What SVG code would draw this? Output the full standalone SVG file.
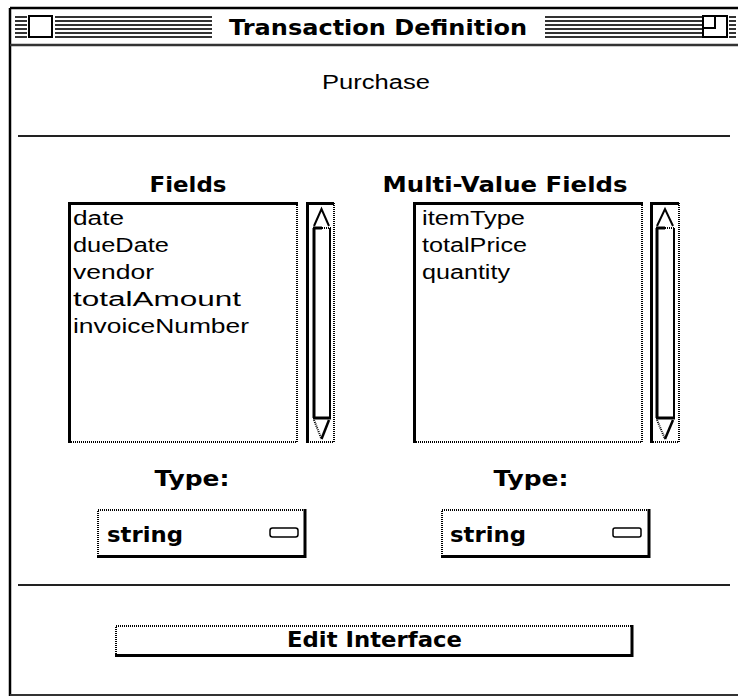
<svg xmlns="http://www.w3.org/2000/svg" width="738" height="696" viewBox="0 0 738 696">
<style>
.blk{stroke:#000;fill:none}
.dot{stroke:#000;stroke-dasharray:1 1;fill:none;stroke-width:2}
.stripe{stroke:#333;stroke-width:2}
.hdr{font-family:"DejaVu Sans",sans-serif;font-weight:bold;font-size:22px;fill:#000}
.reg{font-family:"Liberation Sans","DejaVu Sans",sans-serif;font-size:20px;fill:#000}
</style>
<defs>
<g id="stripes6">
<line x1="0" y1="17" x2="1" y2="17" class="stripe"/>
</g>
</defs>
<rect x="0" y="0" width="738" height="696" fill="#fff"/>
<g id="window">
<line x1="10" y1="8" x2="738" y2="8" class="blk" stroke-width="2.5"/>
<line x1="10" y1="8" x2="10" y2="696" class="blk" stroke-width="2.5"/>
<line x1="10" y1="45" x2="738" y2="45" stroke="#333" stroke-width="2.5"/>
<line x1="10" y1="695" x2="738" y2="695" stroke="#333" stroke-width="2"/>
</g>
<g id="titlebar">
<path d="M15 17H27M15 21H27M15 25H27M15 29H27M15 33H27M15 37H27" class="stripe"/>
<path d="M55 17H212M55 21H212M55 25H212M55 29H212M55 33H212M55 37H212" class="stripe"/>
<path d="M545 17H702M545 21H702M545 25H702M545 29H702M545 33H702M545 37H702" class="stripe"/>
<path d="M729 17H736M729 21H736M729 25H736M729 29H736M729 33H736M729 37H736" class="stripe"/>
<rect x="29" y="16" width="23" height="21" fill="#fff" class="blk" stroke-width="2"/>
<rect x="703" y="16" width="24" height="21" fill="#fff" class="blk" stroke-width="2"/>
<path d="M703 28H715V16" class="blk" stroke-width="2"/>
<text x="378" y="35" text-anchor="middle" class="hdr" textLength="298" lengthAdjust="spacingAndGlyphs">Transaction Definition</text>
</g>
<g id="name">
<text x="376" y="89" text-anchor="middle" class="reg" textLength="108" lengthAdjust="spacingAndGlyphs">Purchase</text>
</g>
<g id="separators">
<line x1="18" y1="136" x2="730" y2="136" stroke="#222" stroke-width="2"/>
<line x1="18" y1="585" x2="730" y2="585" stroke="#222" stroke-width="2"/>
</g>
<g id="fields">
<text x="188" y="192" text-anchor="middle" class="hdr" textLength="77" lengthAdjust="spacingAndGlyphs">Fields</text>
<rect x="68" y="202" width="230" height="241" fill="#fff"/>
<path d="M69.5 443V203.5H298" class="blk" stroke-width="3"/>
<path d="M297 203V442H69" class="dot"/>
<text x="73" y="225" class="reg" textLength="51" lengthAdjust="spacingAndGlyphs">date</text>
<text x="73" y="252" class="reg" textLength="96" lengthAdjust="spacingAndGlyphs">dueDate</text>
<text x="73" y="279" class="reg" textLength="81" lengthAdjust="spacingAndGlyphs">vendor</text>
<text x="73" y="306" class="reg" textLength="168" lengthAdjust="spacingAndGlyphs">totalAmount</text>
<text x="73" y="333" class="reg" textLength="176" lengthAdjust="spacingAndGlyphs">invoiceNumber</text>
</g>
<g id="fields-scroll">
<rect x="306" y="202" width="29" height="241" fill="#fff"/>
<path d="M307.5 443V203.5H334" class="blk" stroke-width="3"/>
<path d="M334 203V442H307" class="dot"/>
<path d="M314 228V418" class="blk" stroke-width="3"/>
<path d="M330 228V418" class="blk" stroke-width="2"/>
<path d="M313 228H322" class="blk" stroke-width="3"/>
<path d="M322 228H331" class="dot"/>
<path d="M314 226L321.5 209L329 226" class="blk" stroke-width="2"/>
<path d="M313 418H331" class="blk" stroke-width="3"/>
<path d="M314 420L321.5 439" class="dot"/>
<path d="M329 420L321.5 439" class="blk" stroke-width="2.5"/>
</g>
<g id="multi">
<text x="505" y="192" text-anchor="middle" class="hdr" textLength="245" lengthAdjust="spacingAndGlyphs">Multi-Value Fields</text>
<rect x="413" y="202" width="230" height="241" fill="#fff"/>
<path d="M414.5 443V203.5H643" class="blk" stroke-width="3"/>
<path d="M642 203V442H414" class="dot"/>
<text x="422" y="225" class="reg" textLength="103" lengthAdjust="spacingAndGlyphs">itemType</text>
<text x="422" y="252" class="reg" textLength="105" lengthAdjust="spacingAndGlyphs">totalPrice</text>
<text x="422" y="279" class="reg" textLength="88" lengthAdjust="spacingAndGlyphs">quantity</text>
</g>
<g id="multi-scroll">
<rect x="650" y="202" width="30" height="241" fill="#fff"/>
<path d="M651.5 443V203.5H679" class="blk" stroke-width="3"/>
<path d="M679 203V442H651" class="dot"/>
<path d="M657 228V418" class="blk" stroke-width="3"/>
<path d="M674 228V418" class="blk" stroke-width="2"/>
<path d="M656 228H665" class="blk" stroke-width="3"/>
<path d="M665 228H675" class="dot"/>
<path d="M657 226L665 209L673 226" class="blk" stroke-width="2"/>
<path d="M656 418H675" class="blk" stroke-width="3"/>
<path d="M657 420L665 439" class="dot"/>
<path d="M673 420L665 439" class="blk" stroke-width="2.5"/>
</g>
<g id="type1">
<text x="192" y="486" text-anchor="middle" class="hdr" textLength="75" lengthAdjust="spacingAndGlyphs">Type:</text>
<rect x="97" y="509" width="209" height="47" fill="#fff"/>
<path d="M98 556V510H305" class="dot"/>
<path d="M305 509V556.5H97" class="blk" stroke-width="3"/>
<text x="107" y="542" class="hdr" textLength="76" lengthAdjust="spacingAndGlyphs">string</text>
<rect x="270" y="528" width="28" height="9" rx="2.5" class="blk" stroke-width="1.5"/>
</g>
<g id="type2">
<text x="531" y="486" text-anchor="middle" class="hdr" textLength="75" lengthAdjust="spacingAndGlyphs">Type:</text>
<rect x="441" y="509" width="209" height="47" fill="#fff"/>
<path d="M442 556V510H649" class="dot"/>
<path d="M649 509V556.5H441" class="blk" stroke-width="3"/>
<text x="450" y="542" class="hdr" textLength="76" lengthAdjust="spacingAndGlyphs">string</text>
<rect x="613" y="528" width="28" height="9" rx="2" class="blk" stroke-width="1.5"/>
</g>
<g id="edit-button">
<rect x="115" y="625" width="518" height="30" fill="#fff"/>
<path d="M116 654V626H632" class="dot"/>
<path d="M632 625V655.5H115" class="blk" stroke-width="3"/>
<text x="374.5" y="647" text-anchor="middle" class="hdr" textLength="175" lengthAdjust="spacingAndGlyphs">Edit Interface</text>
</g>
</svg>
